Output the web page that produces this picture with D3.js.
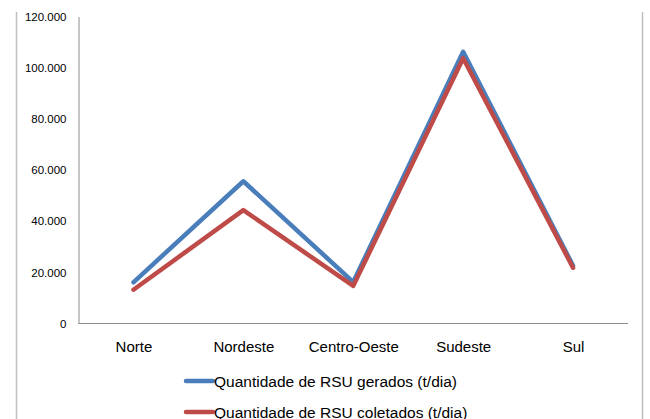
<!DOCTYPE html>
<html><head><meta charset="utf-8">
<script src="https://cdn.jsdelivr.net/npm/d3@7"></script>
<style>body{margin:0;background:#fff;}svg{display:block;}</style>
</head><body>
<svg id="c" width="650" height="419"></svg>
<script>
const categories = ["Norte","Nordeste","Centro-Oeste","Sudeste","Sul"];
const gerados = [16100, 55600, 16200, 106200, 22600];
const coletados = [13200, 44300, 14700, 103700, 21800];
const seriesNames = ["Quantidade de RSU gerados (t/dia)","Quantidade de RSU coletados (t/dia)"];
const yTicks = [0,20000,40000,60000,80000,100000,120000];

(function(){
const svg = d3.select("#c");
const font = "'Liberation Sans', Arial, sans-serif";
const mLeft = 78.5, mRight = 628, mTop = 16.5, mBottom = 323.5;

// frame lines
svg.append("line").attr("x1",16.5).attr("x2",16.5).attr("y1",12).attr("y2",419).attr("stroke","#bfbfbf").attr("stroke-width",1.5);
svg.append("line").attr("x1",642.5).attr("x2",642.5).attr("y1",12).attr("y2",419).attr("stroke","#bfbfbf").attr("stroke-width",1.5);

const x = d3.scalePoint().domain(categories).range([mLeft, mRight]).padding(0.5);
const y = d3.scaleLinear().domain([0,120000]).range([mBottom, mTop]);
const fmt3 = v => v===0 ? "0" : (v/1000).toFixed(0)+".000";

const yAxis = svg.append("g").attr("transform",`translate(${mLeft},0)`)
  .call(d3.axisLeft(y).tickValues(yTicks).tickFormat(fmt3).tickSize(0).tickPadding(12));
yAxis.select(".domain").attr("stroke","#8c8c8c");
yAxis.selectAll("text").attr("font-family",font).attr("font-size",11.5).attr("fill","#000");

const xAxis = svg.append("g").attr("transform",`translate(0,${mBottom})`)
  .call(d3.axisBottom(x).tickSize(0).tickPadding(18));
xAxis.select(".domain").attr("stroke","#8c8c8c").attr("d",`M${mLeft},0H${mRight}`);
xAxis.selectAll("text").attr("font-family",font).attr("font-size",15).attr("fill","#000");

const colors = ["#4a7ebb","#be4b48"];
const line = d3.line().x((d,i)=>x(categories[i])).y(d=>y(d));
[gerados, coletados].forEach((s,i)=>{
  svg.append("path").attr("d",line(s)).attr("fill","none").attr("stroke",colors[i])
    .attr("stroke-width",4.5).attr("stroke-linejoin","round").attr("stroke-linecap","round");
});

// legend
const legY = [381, 412];
seriesNames.forEach((n,i)=>{
  const g = svg.append("g");
  g.append("line").attr("x1",186).attr("x2",213).attr("y1",legY[i]).attr("y2",legY[i])
    .attr("stroke",colors[i]).attr("stroke-width",4.5).attr("stroke-linecap","round");
  g.append("text").attr("x",214).attr("y",legY[i]+5.5).attr("font-family",font).attr("font-size",15.5)
    .attr("fill","#000").text(n);
});
})();
</script>
</body></html>
